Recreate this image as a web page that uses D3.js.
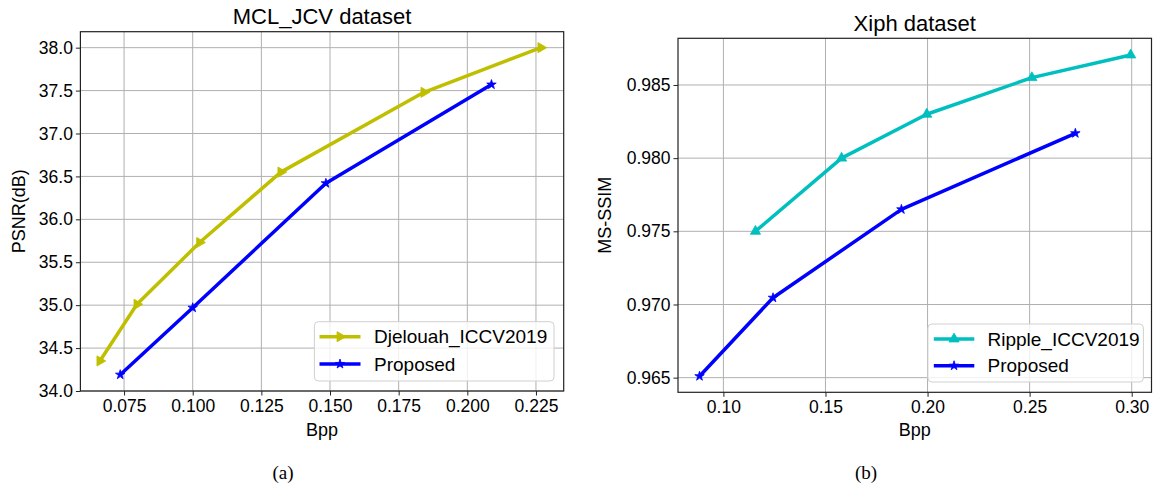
<!DOCTYPE html>
<html><head><meta charset="utf-8">
<script src="https://cdn.jsdelivr.net/npm/d3@7"></script>
<style>
body{margin:0;background:#fff;}
svg{display:block;font-family:"Liberation Sans",Arial,sans-serif;}
</style></head><body>
<svg id="c" width="1156" height="491"></svg>
<script>
// ---- data ----
const djelouahBpp = [0.0662, 0.0797, 0.1025, 0.1321, 0.1842, 0.2268];
const djelouahPsnr = [34.35, 35.01, 35.73, 36.55, 37.48, 38.00];
const proposedBppA = [0.0736, 0.1000, 0.1485, 0.2088];
const proposedPsnr = [34.19, 34.97, 36.42, 37.57];
const rippleBpp = [0.1157, 0.1579, 0.1996, 0.2511, 0.2995];
const rippleSsim = [0.9750, 0.9800, 0.9830, 0.9855, 0.98705];
const proposedBppB = [0.0883, 0.1243, 0.1872, 0.2724];
const proposedSsim = [0.9651, 0.97046, 0.9765, 0.9817];
const xTicksA = [0.075, 0.100, 0.125, 0.150, 0.175, 0.200, 0.225];
const yTicksA = [34.0, 34.5, 35.0, 35.5, 36.0, 36.5, 37.0, 37.5, 38.0];
const xTicksB = [0.10, 0.15, 0.20, 0.25, 0.30];
const yTicksB = [0.965, 0.970, 0.975, 0.980, 0.985];

const svg = d3.select("#c");

function panel(o){
  const x = d3.scaleLinear().domain(o.xDomain).range([o.left, o.right]);
  const y = d3.scaleLinear().domain(o.yDomain).range([o.bottom, o.top]);
  const g = svg.append("g");
  // grid
  g.selectAll(".gx").data(o.xTicks).join("line")
    .attr("x1", d=>x(d)).attr("x2", d=>x(d)).attr("y1", o.top).attr("y2", o.bottom)
    .attr("stroke", "#b0b0b0").attr("stroke-width", 1);
  g.selectAll(".gy").data(o.yTicks).join("line")
    .attr("y1", d=>y(d)).attr("y2", d=>y(d)).attr("x1", o.left).attr("x2", o.right)
    .attr("stroke", "#b0b0b0").attr("stroke-width", 1);
  // axes
  const ax = g.append("g").attr("transform", `translate(0,${o.bottom})`)
    .call(d3.axisBottom(x).tickValues(o.xTicks).tickFormat(d3.format(o.xFmt)).tickSize(4.5).tickPadding(4));
  const ay = g.append("g").attr("transform", `translate(${o.left},0)`)
    .call(d3.axisLeft(y).tickValues(o.yTicks).tickFormat(d3.format(o.yFmt)).tickSize(4.5).tickPadding(3));
  [ax, ay].forEach(a=>{
    a.select(".domain").remove();
    a.selectAll("line").attr("stroke", "#222").attr("stroke-width", 1);
    a.selectAll("text").attr("fill", "#000").style("font-size", "17.5px").style("font-family", '"Liberation Sans",Arial,sans-serif');
  });
  // series
  const line = d3.line().x(d=>x(d[0])).y(d=>y(d[1]));
  o.series.forEach(s=>{
    const pts = s.xs.map((v,i)=>[v, s.ys[i]]);
    g.append("path").attr("d", line(pts)).attr("fill", "none")
      .attr("stroke", s.color).attr("stroke-width", 3.5).attr("stroke-linejoin", "round");
    g.selectAll(null).data(pts).join("path")
      .attr("d", d3.symbol().type(s.symbol).size(s.size))
      .attr("transform", d=>`translate(${x(d[0])},${y(d[1])}) rotate(${s.rot})`)
      .attr("fill", s.color).attr("stroke", s.color).attr("stroke-width", 0.8);
  });
  // frame
  g.append("rect").attr("x", o.left).attr("y", o.top)
    .attr("width", o.right-o.left).attr("height", o.bottom-o.top)
    .attr("fill", "none").attr("stroke", "#222").attr("stroke-width", 1.2);
  // title and labels
  g.append("text").attr("x", (o.left+o.right)/2).attr("y", o.titleY)
    .attr("text-anchor", "middle").style("font-size", "22px").text(o.title);
  g.append("text").attr("x", (o.left+o.right)/2).attr("y", 436)
    .attr("text-anchor", "middle").style("font-size", "18px").text(o.xLabel);
  g.append("text").attr("transform", `translate(${o.yLabelX},${(o.top+o.bottom)/2}) rotate(-90)`)
    .attr("text-anchor", "middle").style("font-size", "18px").text(o.yLabel);
  g.append("text").attr("x", o.capX).attr("y", 479)
    .attr("text-anchor", "middle").style("font-family", '"Liberation Serif","Times New Roman",serif')
    .style("font-size", "19px").text(o.caption);
  // legend
  const L = o.legend;
  g.append("rect").attr("x", L.x0).attr("y", L.y0).attr("width", L.x1-L.x0).attr("height", L.y1-L.y0)
    .attr("rx", 4).attr("fill", "#fff").attr("fill-opacity", 0.8).attr("stroke", "#d0d0d0").attr("stroke-width", 1);
  o.series.forEach((s,i)=>{
    const yy = L.rows[i];
    g.append("line").attr("x1", L.lx0).attr("x2", L.lx1).attr("y1", yy).attr("y2", yy)
      .attr("stroke", s.color).attr("stroke-width", 3.5);
    g.append("path").attr("d", d3.symbol().type(s.symbol).size(s.size))
      .attr("transform", `translate(${(L.lx0+L.lx1)/2},${yy}) rotate(${s.rot})`)
      .attr("fill", s.color).attr("stroke", s.color).attr("stroke-width", 0.8);
    g.append("text").attr("x", L.tx).attr("y", yy).attr("dy", "0.35em")
      .style("font-size", "19px").text(s.name);
  });
}

panel({
  left: 80.4, right: 563.7, top: 31.7, bottom: 391,
  xDomain: [0.0591, 0.2351], yDomain: [34.0, 38.186],
  xTicks: xTicksA, yTicks: yTicksA, xFmt: ".3f", yFmt: ".1f",
  title: "MCL_JCV dataset", titleY: 24, xLabel: "Bpp", yLabel: "PSNR(dB)", yLabelX: 25,
  caption: "(a)", capX: 283,
  legend: {x0: 314.4, x1: 554, y0: 321.7, y1: 381, lx0: 319.5, lx1: 360.5, tx: 374, rows: [336.7, 364]},
  series: [
    {name: "Djelouah_ICCV2019", xs: djelouahBpp, ys: djelouahPsnr, color: "#bfbf00", symbol: d3.symbolTriangle, size: 45, rot: 90},
    {name: "Proposed", xs: proposedBppA, ys: proposedPsnr, color: "#0000ff", symbol: d3.symbolStar, size: 28, rot: 0}
  ]
});

panel({
  left: 678, right: 1151.5, top: 38.3, bottom: 392.3,
  xDomain: [0.07776, 0.3097], yDomain: [0.964, 0.98819],
  xTicks: xTicksB, yTicks: yTicksB, xFmt: ".2f", yFmt: ".3f",
  title: "Xiph dataset", titleY: 30.5, xLabel: "Bpp", yLabel: "MS-SSIM", yLabelX: 611,
  caption: "(b)", capX: 866,
  legend: {x0: 927.9, x1: 1143.4, y0: 324, y1: 382, lx0: 933.8, lx1: 974.3, tx: 987.5, rows: [339, 365.7]},
  series: [
    {name: "Ripple_ICCV2019", xs: rippleBpp, ys: rippleSsim, color: "#00bfbf", symbol: d3.symbolTriangle, size: 45, rot: 0},
    {name: "Proposed", xs: proposedBppB, ys: proposedSsim, color: "#0000ff", symbol: d3.symbolStar, size: 28, rot: 0}
  ]
});
</script>
</body></html>
